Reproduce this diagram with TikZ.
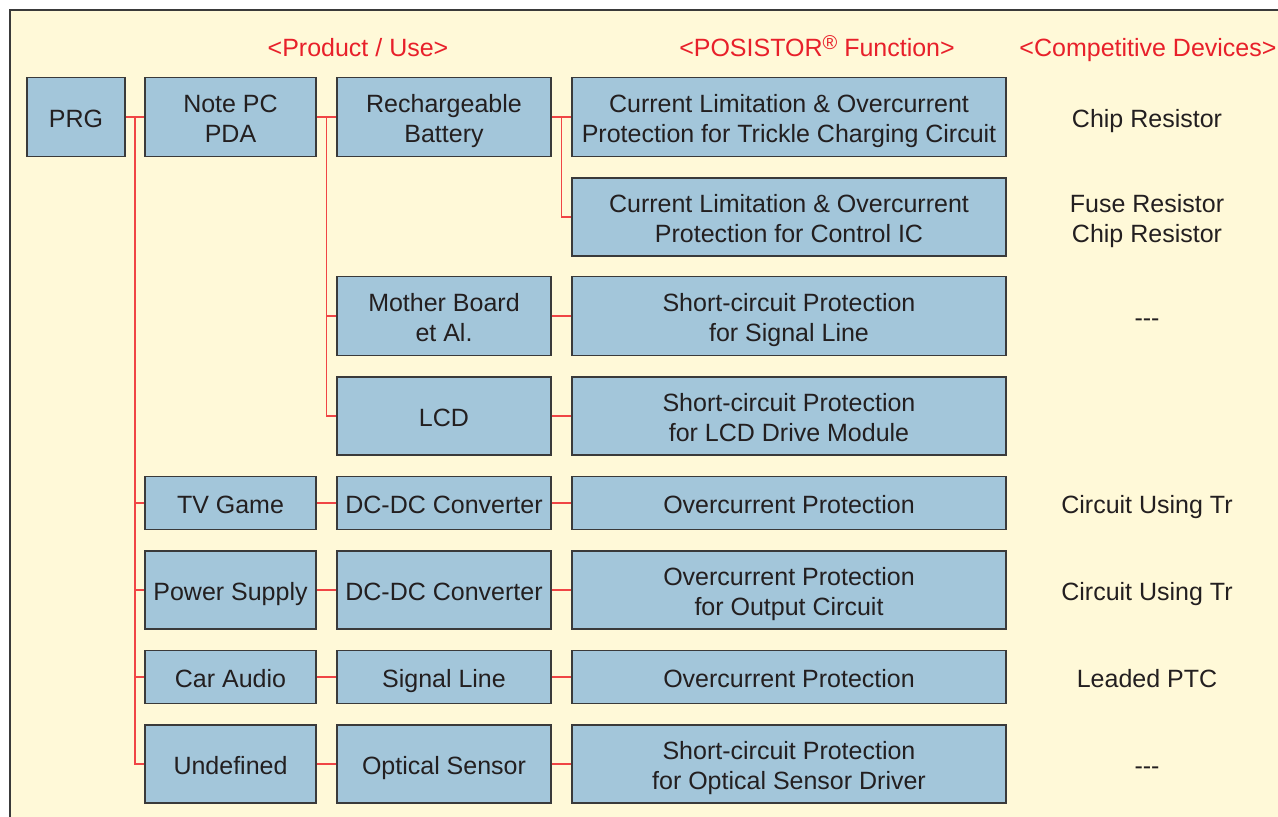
\documentclass[tikz,border=0pt]{standalone}
\usepackage{fontspec}
\setmainfont{Liberation Sans}
\usetikzlibrary{calc}
\definecolor{cream}{HTML}{FFF9D8}
\definecolor{boxfill}{HTML}{A3C6DA}
\definecolor{boxline}{HTML}{3A3A3A}
\definecolor{linkred}{HTML}{F04545}
\definecolor{headred}{HTML}{E8202A}
\definecolor{txt}{HTML}{231F20}
\newcommand\tp{\rule{0pt}{27pt}}
\newcommand\bt{\rule[-6.7pt]{0pt}{0pt}}
\newcommand\one[1]{\tp#1\bt}
\newcommand\two[2]{\tp#1\\#2\bt}
\begin{document}
\begin{tikzpicture}[x=1pt,y=-1pt,
  box/.style={draw=boxline, fill=boxfill, line width=1.3pt, inner sep=0pt, align=center,
    text=txt, font=\fontsize{25}{30}\selectfont},
  conn/.style={draw=linkred, line width=1.4pt},
  head/.style={text=headred, font=\fontsize{25}{30}\selectfont, inner sep=0pt},
  comp/.style={text=txt, align=center, font=\fontsize{25}{30}\selectfont, inner sep=0pt}]
\useasboundingbox (0,0) rectangle (1278,817);
\fill[cream] (10,10) rectangle (1290,830);
\draw[boxline, line width=1.5pt] (10,830) -- (10,10) -- (1290,10);
% headers
\node[head] (h1) at (358,46) {\one{<Product / Use>}};
\node[head] (h2) at (817,46) {\one{<POSISTOR\raisebox{7pt}{\fontsize{20}{20}\selectfont\textregistered} Function>}};
\node[head] (h3) at (1148,46) {\one{<Competitive Devices>}};
% column 1
\node[box, minimum width=98, minimum height=79] (prg) at (76,117) {\one{PRG}};
% column 2
\node[box, minimum width=171, minimum height=79] (note) at (230.5,117) {\two{Note PC}{PDA}};
\node[box, minimum width=171, minimum height=53] (tv) at (230.5,503) {\one{TV Game}};
\node[box, minimum width=171, minimum height=78] (pow) at (230.5,590) {\one{Power Supply}};
\node[box, minimum width=171, minimum height=53] (car) at (230.5,677) {\one{Car Audio}};
\node[box, minimum width=171, minimum height=78] (und) at (230.5,764) {\one{Undefined}};
% column 3
\node[box, minimum width=214, minimum height=79] (rech) at (444,117) {\two{Rechargeable}{Battery}};
\node[box, minimum width=214, minimum height=79] (mb) at (444,316) {\two{Mother Board}{et Al.}};
\node[box, minimum width=214, minimum height=78] (lcd) at (444,416) {\one{LCD}};
\node[box, minimum width=214, minimum height=53] (dc1) at (444,503) {\one{DC-DC Converter}};
\node[box, minimum width=214, minimum height=78] (dc2) at (444,590) {\one{DC-DC Converter}};
\node[box, minimum width=214, minimum height=53] (sig) at (444,677) {\one{Signal Line}};
\node[box, minimum width=214, minimum height=78] (opt) at (444,764) {\one{Optical Sensor}};
% column 4
\node[box, minimum width=434, minimum height=79] (f1) at (789,117) {\two{Current Limitation \& Overcurrent}{Protection for Trickle Charging Circuit}};
\node[box, minimum width=434, minimum height=78] (f2) at (789,217) {\two{Current Limitation \& Overcurrent}{Protection for Control IC}};
\node[box, minimum width=434, minimum height=79] (f3) at (789,316) {\two{Short-circuit Protection}{for Signal Line}};
\node[box, minimum width=434, minimum height=78] (f4) at (789,416) {\two{Short-circuit Protection}{for LCD Drive Module}};
\node[box, minimum width=434, minimum height=53] (f5) at (789,503) {\one{Overcurrent Protection}};
\node[box, minimum width=434, minimum height=78] (f6) at (789,590) {\two{Overcurrent Protection}{for Output Circuit}};
\node[box, minimum width=434, minimum height=53] (f7) at (789,677) {\one{Overcurrent Protection}};
\node[box, minimum width=434, minimum height=78] (f8) at (789,764) {\two{Short-circuit Protection}{for Optical Sensor Driver}};
% competitive devices
\node[comp] (c1) at (1147,117) {\one{Chip Resistor}};
\node[comp] (c2) at (1147,217) {\two{Fuse Resistor}{Chip Resistor}};
\node[comp] (c3) at (1147,316) {\one{{-}{-}{-}}};
\node[comp] (c5) at (1147,503) {\one{Circuit Using Tr}};
\node[comp] (c6) at (1147,590) {\one{Circuit Using Tr}};
\node[comp] (c7) at (1147,677) {\one{Leaded PTC}};
\node[comp] (c8) at (1147,764) {\one{{-}{-}{-}}};
% connectors
\coordinate (j1) at ($(prg.east)!0.5!(note.west)$);
\coordinate (j2) at ($(note.east)!0.5!(rech.west)$);
\coordinate (j3) at ($(rech.east)!0.5!(f1.west)$);
\draw[conn] (prg.east) -- (note.west);
\draw[conn] (j1) |- (tv.west);
\draw[conn] (j1) |- (pow.west);
\draw[conn] (j1) |- (car.west);
\draw[conn] (j1) |- (und.west);
\draw[conn] (note.east) -- (rech.west);
\draw[conn] (j2) |- (mb.west);
\draw[conn] (j2) |- (lcd.west);
\draw[conn] (rech.east) -- (f1.west);
\draw[conn] (j3) |- (f2.west);
\draw[conn] (mb.east) -- (f3.west);
\draw[conn] (lcd.east) -- (f4.west);
\draw[conn] (tv.east) -- (dc1.west);
\draw[conn] (dc1.east) -- (f5.west);
\draw[conn] (pow.east) -- (dc2.west);
\draw[conn] (dc2.east) -- (f6.west);
\draw[conn] (car.east) -- (sig.west);
\draw[conn] (sig.east) -- (f7.west);
\draw[conn] (und.east) -- (opt.west);
\draw[conn] (opt.east) -- (f8.west);
\end{tikzpicture}
\end{document}
